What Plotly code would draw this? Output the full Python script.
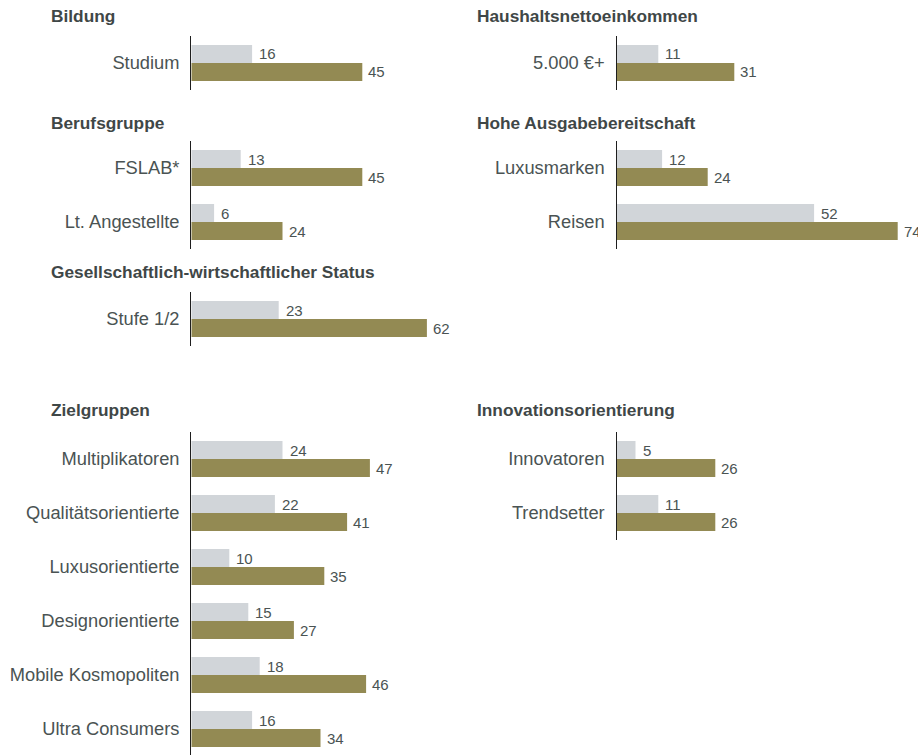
import plotly.graph_objects as go

# ---- data ----
bildung_cats = ["Studium"]
bildung_grey = [16]
bildung_olive = [45]

beruf_cats = ["FSLAB*", "Lt. Angestellte"]
beruf_grey = [13, 6]
beruf_olive = [45, 24]

status_cats = ["Stufe 1/2"]
status_grey = [23]
status_olive = [62]

ziel_cats = ["Multiplikatoren", "Qualitätsorientierte", "Luxusorientierte",
             "Designorientierte", "Mobile Kosmopoliten", "Ultra Consumers"]
ziel_grey = [24, 22, 10, 15, 18, 16]
ziel_olive = [47, 41, 35, 27, 46, 34]

hh_cats = ["5.000 €+"]
hh_grey = [11]
hh_olive = [31]

ausgabe_cats = ["Luxusmarken", "Reisen"]
ausgabe_grey = [12, 52]
ausgabe_olive = [24, 74]

innov_cats = ["Innovatoren", "Trendsetter"]
innov_grey = [5, 11]
innov_olive = [26, 26]

# ---- layout helpers ----
W, H = 918, 755
PX_PER_UNIT = 3.8
SLOT = 54
GREY = "#d1d5d9"
OLIVE = "#938a53"
LABEL_C = "#4a5353"
TITLE_C = "#3f4747"
FONT = "Liberation Sans"

# (title, cats, grey, olive, column, title_y_px, axis_top_px)
panels = [
    ("Bildung", bildung_cats, bildung_grey, bildung_olive, 0, 16, 36),
    ("Berufsgruppe", beruf_cats, beruf_grey, beruf_olive, 0, 123, 141),
    ("Gesellschaftlich-wirtschaftlicher Status", status_cats, status_grey, status_olive, 0, 272, 292),
    ("Zielgruppen", ziel_cats, ziel_grey, ziel_olive, 0, 410, 432),
    ("Haushaltsnettoeinkommen", hh_cats, hh_grey, hh_olive, 1, 16, 36),
    ("Hohe Ausgabebereitschaft", ausgabe_cats, ausgabe_grey, ausgabe_olive, 1, 123, 141),
    ("Innovationsorientierung", innov_cats, innov_grey, innov_olive, 1, 410, 432),
]

col_axis_x = [191.3, 616.5]
col_right_x = [470, 918]
col_title_x = [49, 475]

fig = go.Figure()
annotations = []
layout_axes = {}

for i, (title, cats, grey, olive, col, ty, top) in enumerate(panels):
    n = len(cats)
    k = i + 1
    xa = "x" if k == 1 else f"x{k}"
    ya = "y" if k == 1 else f"y{k}"
    bottom = min(top + n * SLOT, H)
    units = (bottom - top) / SLOT
    y_range = [-0.5 + units, -0.5]

    fig.add_trace(go.Bar(y=cats, x=grey, orientation="h", marker_color=GREY,
                         marker_line_width=0, xaxis=xa, yaxis=ya, hoverinfo="x+y"))
    fig.add_trace(go.Bar(y=cats, x=olive, orientation="h", marker_color=OLIVE,
                         marker_line_width=0, xaxis=xa, yaxis=ya, hoverinfo="x+y"))

    x0 = col_axis_x[col]
    x1 = col_right_x[col]
    layout_axes[f"xaxis{'' if k == 1 else k}"] = dict(
        domain=[x0 / W, x1 / W], range=[0, (x1 - x0) / PX_PER_UNIT],
        anchor=ya, showgrid=False, zeroline=False, showticklabels=False,
        showline=False, fixedrange=True)
    layout_axes[f"yaxis{'' if k == 1 else k}"] = dict(
        domain=[1 - bottom / H, 1 - top / H], range=y_range, type="category",
        anchor=xa, showgrid=False, zeroline=False, showline=True,
        linecolor="#1e1e1e", linewidth=1.3, ticks="", ticklabelstandoff=7,
        tickfont=dict(family=FONT, size=18.3, color=LABEL_C), fixedrange=True)

    annotations.append(dict(text=f"<b>{title}</b>", xref="paper", yref="paper",
                            x=col_title_x[col] / W, y=1 - ty / H, xanchor="left",
                            yanchor="middle", showarrow=False,
                            font=dict(family=FONT, size=17.3, color=TITLE_C)))
    for c, g, o in zip(cats, grey, olive):
        annotations.append(dict(text=str(g), xref=xa, yref=ya, x=g, y=c,
                                xanchor="left", yanchor="middle", xshift=5, yshift=9,
                                showarrow=False,
                                font=dict(family=FONT, size=15, color=LABEL_C)))
        annotations.append(dict(text=str(o), xref=xa, yref=ya, x=o, y=c,
                                xanchor="left", yanchor="middle", xshift=4, yshift=-9,
                                showarrow=False,
                                font=dict(family=FONT, size=15, color=LABEL_C)))

fig.update_layout(
    width=W, height=H, margin=dict(l=0, r=0, t=0, b=0),
    paper_bgcolor="white", plot_bgcolor="white",
    barmode="group", bargap=1/3, bargroupgap=0,
    showlegend=False, annotations=annotations,
    font=dict(family=FONT, color=LABEL_C),
    **layout_axes)

fig.write_html("out.html", config={"displayModeBar": False},
               post_script="document.body.style.margin='0';document.body.style.overflow='hidden';")
